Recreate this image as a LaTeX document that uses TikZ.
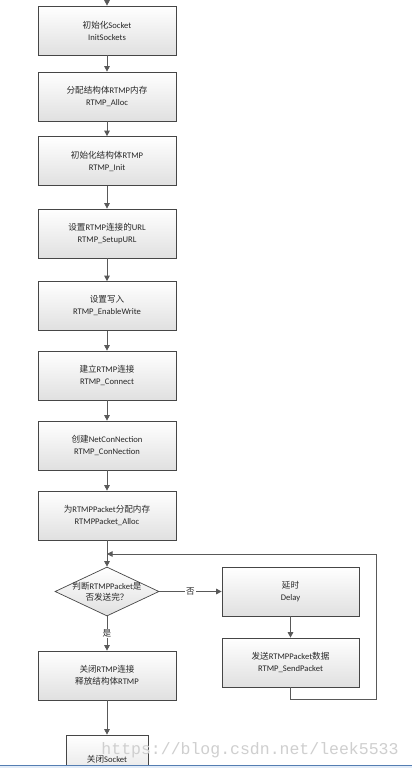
\documentclass[tikz,border=0pt]{standalone}
\usepackage{fontspec}
\setmainfont{Carlito}
\newfontfamily\cjk{Noto Sans CJK SC}
\newfontfamily\wmfont{Liberation Mono}
\usetikzlibrary{arrows.meta,positioning,shapes.geometric}
\definecolor{lnGray}{RGB}{89,89,89}
\definecolor{boxEdge}{RGB}{70,70,70}
\definecolor{boxShade}{RGB}{224,224,224}
\definecolor{txtGray}{RGB}{40,40,40}
\definecolor{barBlue}{RGB}{84,126,178}
\definecolor{barPale}{RGB}{226,236,248}
\tikzset{
  stepbox/.style={draw=boxEdge, line width=0.7pt, top color=white, bottom color=boxShade,
    minimum width=138pt, minimum height=49pt, inner sep=0pt, align=center,
    text=txtGray, font=\fontsize{8.6pt}{12pt}\selectfont},
  decision/.style={diamond, draw=boxEdge, line width=0.7pt, top color=white,
    bottom color=boxShade, minimum width=104pt, minimum height=49pt, inner sep=0pt},
  flow/.style={-{Triangle[length=5.5pt,width=5.5pt]}, line width=0.8pt, lnGray},
  loopln/.style={line width=0.8pt, lnGray},
  branch/.style={fill=white, inner sep=1pt, text=txtGray, font=\fontsize{8.6pt}{12pt}\selectfont},
}
\newcommand{\zh}[1]{{\cjk #1}}

\begin{document}
\begin{tikzpicture}[x=1pt, y=-1pt]
  \path[use as bounding box, clip] (0,0) rectangle (412,768);
  \fill[white] (0,0) rectangle (412,768);
  % main chain of steps
  \foreach \n/\y/\la/\lb in {
      sock/30.5/{\zh{初始化}Socket}/{InitSockets},
      alloc/96.5/{\zh{分配结构体}RTMP\zh{内存}}/{RTMP\_Alloc},
      init/161/{\zh{初始化结构体}RTMP}/{RTMP\_Init},
      url/233.5/{\zh{设置}RTMP\zh{连接的}URL}/{RTMP\_SetupURL},
      write/306/{\zh{设置写入}}/{RTMP\_EnableWrite},
      conn/375.5/{\zh{建立}RTMP\zh{连接}}/{RTMP\_Connect},
      netc/445.5/{\zh{创建}NetConNection}/{RTMP\_ConNection},
      pkt/515.5/{\zh{为}RTMPPacket\zh{分配内存}}/{RTMPPacket\_Alloc}} {
    \node[stepbox] (\n) at (107,\y) {\la\\\lb};
  }
  \coordinate (top) at (107,0);
  \draw[flow] (top) -- (sock);
  \foreach \a/\b in {sock/alloc, alloc/init, init/url, url/write,
      write/conn, conn/netc, netc/pkt} {
    \draw[flow] (\a) -- (\b);
  }
  % sending loop
  \node[decision] (chk) at (107,591.5) {};
  \node[text=txtGray, align=center, font=\fontsize{8.6pt}{11.5pt}\selectfont] (chktxt) at (chk)
    {\zh{判断}RTMPPacket\zh{是}\\\zh{否发送完？}};
  \node[stepbox, minimum width=137pt] (delay) at (290.5,591.5) {\zh{延时}\\Delay};
  \node[stepbox, minimum width=137pt] (send) at (290.5,662.5)
    {\zh{发送}RTMPPacket\zh{数据}\\RTMP\_SendPacket};
  \node[stepbox] (close) at (107,675.5) {\zh{关闭}RTMP\zh{连接}\\\zh{释放结构体}RTMP};
  \node[stepbox, minimum width=82pt] (sockend) at (107,759.5) {\zh{关闭}Socket};
  \coordinate (loopin) at (107,554);
  \coordinate (loopR) at (376,554);
  \draw[flow] (pkt) -- (chk);
  \draw[flow] (chk) -- node[branch] {\zh{否}} (delay);
  \draw[flow] (chk) -- node[branch] {\zh{是}} (close);
  \draw[flow] (delay) -- (send);
  \draw[loopln] (send.south) -- ++(0,12) -| (loopR);
  \draw[flow] (loopR) -- (loopin);
  \draw[flow] (close) -- (sockend);
  % watermark and bottom bar
  \node[anchor=base, text=gray!38, font=\wmfont\fontsize{16.5pt}{18pt}\selectfont] (mark)
    at (250,754) {https://blog.csdn.net/leek5533};
  \fill[barPale] (0,766) rectangle (412,768);
  \draw[barBlue, line width=0.8pt] (0,765.5) -- (412,765.5);
\end{tikzpicture}
\end{document}
